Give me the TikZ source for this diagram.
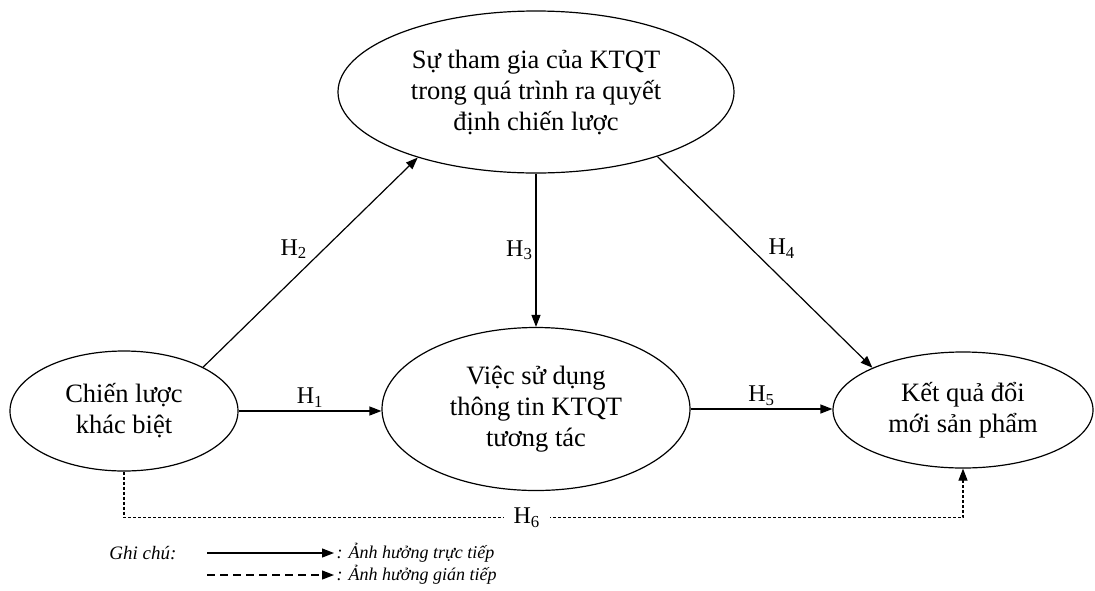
\documentclass[tikz,border=0pt]{standalone}
\usepackage{fontspec}
\setmainfont{Liberation Serif}
\usetikzlibrary{arrows.meta,shapes.geometric}
\begin{document}
\begin{tikzpicture}[x=1pt,y=-1pt,line width=1.2pt,>={Triangle[length=12pt,width=9pt]}]
\tikzstyle{construct}=[draw,ellipse,inner sep=0pt,align=center,font=\fontsize{26.5}{31}\selectfont]
\tikzstyle{hlabel}=[font=\fontsize{24}{28}\selectfont,inner sep=3pt]
\tikzstyle{note}=[font=\fontsize{18}{22}\selectfont\itshape,inner sep=2pt]
\useasboundingbox (0,0) rectangle (1095,590);
  \node[construct,minimum width=396pt,minimum height=162pt] (sutg) at (536,92)
    {Sự tham gia của KTQT\\trong quá trình ra quyết\\định chiến lược};
  \node[construct,minimum width=228pt,minimum height=120pt] (chien) at (124,411)
    {Chiến lược\\khác biệt};
  \node[construct,minimum width=308pt,minimum height=163pt] (viec) at (536,409)
    {Việc sử dụng\\thông tin KTQT\\tương tác};
  \node[construct,minimum width=260pt,minimum height=116pt] (ket) at (963,410)
    {Kết quả đổi\\mới sản phẩm};
  % direct effects
  \foreach \source/\dest/\num/\side in {chien.29/sutg.209/2/above left,
                                       sutg.south/viec.north/3/left,
                                       sutg.-28/ket.155/4/above right}
      \draw[->] (\source) -- (\dest) node[midway,\side,hlabel] {H\textsubscript{\num}};
  \draw[->] (chien.east) -- (chien.east -| viec.west) node[midway,above,hlabel] {H\textsubscript{1}};
  \draw[->] (viec.east) -- (viec.east -| ket.west) node[midway,above,hlabel] {H\textsubscript{5}};
  % indirect effect
  \draw[->,dash pattern=on 3pt off 2pt] (chien.south) -- ++(0,46) -| (ket.south)
    node[pos=0.24,fill=white,hlabel,inner xsep=10pt] {H\textsubscript{6}};
  % legend
  \node[note,font=\fontsize{19}{22}\selectfont\itshape] (ghichu) at (143,553) {Ghi chú:};
  \node[note,anchor=west] (direct) at (334,553) {: Ảnh hưởng trực tiếp};
  \node[note,anchor=west] (indirect) at (334,575) {: Ảnh hưởng gián tiếp};
  \coordinate (d1) at (207,553);
  \coordinate (i1) at (207,575);
  \draw[->] (d1) -- (direct.west);
  \draw[->,dash pattern=on 8pt off 5pt] (i1) -- (indirect.west);
\end{tikzpicture}
\end{document}
